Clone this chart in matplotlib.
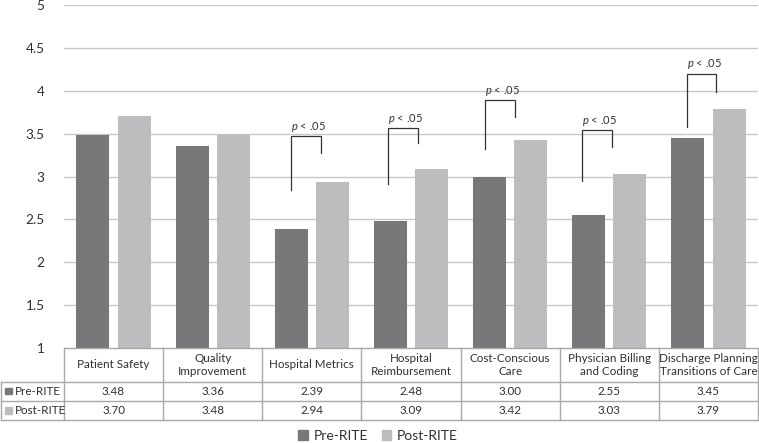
import matplotlib
matplotlib.use("Agg")
import matplotlib.pyplot as plt
from matplotlib.patches import Patch, Rectangle

plt.rcParams['font.family'] = ['Lato', 'DejaVu Sans']
plt.rcParams['mathtext.fontset'] = 'custom'
plt.rcParams['mathtext.it'] = 'Lato:italic'
plt.rcParams['mathtext.rm'] = 'Lato'

categories = ["Patient Safety", "Quality\nImprovement", "Hospital Metrics",
              "Hospital\nReimbursement", "Cost-Conscious\nCare",
              "Physician Billing\nand Coding", "Discharge Planning\nTransitions of Care"]
series_names = ["Pre-RITE", "Post-RITE"]
pre_rite = [3.48, 3.36, 2.39, 2.48, 3.00, 2.55, 3.45]
post_rite = [3.70, 3.48, 2.94, 3.09, 3.42, 3.03, 3.79]
y_ticks = [1, 1.5, 2, 2.5, 3, 3.5, 4, 4.5, 5]
y_tick_labels = ["1", "1.5", "2", "2.5", "3", "3.5", "4", "4.5", "5"]

# significance brackets: category index, left x offset, right x offset, left bottom, top, right bottom
sig_index = [2, 3, 4, 5, 6]
sig_left_dx = [-0.21, -0.23, -0.25, -0.28, -0.22]
sig_right_dx = [0.09, 0.07, 0.05, 0.03, 0.08]
sig_left_y = [2.84, 2.91, 3.32, 2.95, 3.58]
sig_top_y = [3.47, 3.56, 3.89, 3.54, 4.20]
sig_right_y = [3.27, 3.39, 3.69, 3.34, 3.98]
sig_label = "$p$ < .05"

c_pre = "#78787b"
c_post = "#bdbdbf"
grid_c = "#c8c8c8"
line_c = "#a8a8a8"
text_c = "#303030"

W, H = 759, 443
fig = plt.figure(figsize=(W / 100, H / 100), dpi=100)
x0, x1 = 64, 758
ytop, ybot = 5, 348
ax = fig.add_axes([x0 / W, (H - ybot) / H, (x1 - x0) / W, (ybot - ytop) / H])

n = len(categories)
xs = list(range(n))
bw = 0.333
ax.bar([x - 0.208 for x in xs], pre_rite, width=bw, color=c_pre, zorder=3)
ax.bar([x + 0.208 for x in xs], post_rite, width=bw, color=c_post, zorder=3)
ax.set_xlim(-0.5, n - 0.5)
ax.set_ylim(1, 5)
ax.set_yticks(y_ticks)
ax.set_yticklabels(y_tick_labels, fontsize=9.8, color=text_c)
ax.tick_params(axis='y', length=0, pad=14)
ax.set_xticks([])
for s in ax.spines.values():
    s.set_visible(False)
for t in y_ticks[1:]:
    ax.axhline(t, color=grid_c, lw=1, zorder=1)

for i, ldx, rdx, ly, ty, ry in zip(sig_index, sig_left_dx, sig_right_dx,
                                    sig_left_y, sig_top_y, sig_right_y):
    xl, xr = i + ldx, i + rdx
    ax.plot([xl, xl, xr, xr], [ly, ty, ty, ry], color="#333333", lw=0.9, zorder=4,
            solid_joinstyle='miter')
    ax.text(xl, ty + 0.03, sig_label, fontsize=8, color=text_c, ha='left', va='bottom')

# data table
tb_top, tb_bot = 348, 420
tax = fig.add_axes([0, (H - tb_bot) / H, x1 / W, (tb_bot - tb_top) / H])
ppu = (x1 - x0) / n
tax.set_xlim(-0.5 - x0 / ppu, n - 0.5)
tax.set_ylim(tb_bot - tb_top, 0)
tax.axis('off')
r_h1, r_h2 = 33.7, 52.7
tlw = 1.0
left_edge = -0.5 - x0 / ppu + 0.5 / ppu
# horizontal lines
tax.plot([-0.5, n - 0.5], [0, 0], color=line_c, lw=tlw, clip_on=False)
for yy in [r_h1, r_h2, tb_bot - tb_top]:
    tax.plot([left_edge, n - 0.5], [yy, yy], color=line_c, lw=tlw, clip_on=False)
# vertical lines
for k in range(n + 1):
    tax.plot([k - 0.5, k - 0.5], [0, tb_bot - tb_top], color=line_c, lw=tlw, clip_on=False)
tax.plot([left_edge, left_edge], [r_h1, tb_bot - tb_top], color=line_c, lw=tlw, clip_on=False)

fs = 8.4
for k, cat in enumerate(categories):
    tax.text(k, r_h1 / 2, cat, ha='center', va='center', fontsize=fs, color=text_c,
             linespacing=1.15)
    tax.text(k, (r_h1 + r_h2) / 2, f"{pre_rite[k]:.2f}", ha='center', va='center',
             fontsize=fs, color=text_c)
    tax.text(k, (r_h2 + tb_bot - tb_top) / 2, f"{post_rite[k]:.2f}", ha='center',
             va='center', fontsize=fs, color=text_c)

row_vals = [((r_h1 + r_h2) / 2, c_pre, series_names[0]),
            ((r_h2 + tb_bot - tb_top) / 2, c_post, series_names[1])]
for yc, col, name in row_vals:
    sq = 6.5
    tax.add_patch(Rectangle((left_edge + 4.5 / ppu, yc - sq / 2), sq / ppu, sq,
                            color=col, clip_on=False))
    tax.text(left_edge + 14 / ppu, yc, name, ha='left', va='center', fontsize=fs,
             color=text_c)

handles = [Patch(color=c_pre, label=series_names[0]),
           Patch(color=c_post, label=series_names[1])]
fig.legend(handles=handles, loc='center', bbox_to_anchor=(378 / W, 1 - 436 / H),
           ncol=2, frameon=False, fontsize=10, handlelength=0.7, handleheight=0.7,
           handletextpad=0.4, columnspacing=1.0, labelcolor=text_c)

fig.savefig("out.png", dpi=100)
